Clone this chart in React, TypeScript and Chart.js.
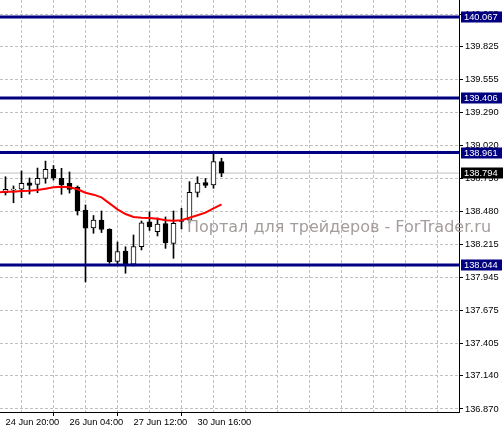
import React, { useEffect, useRef } from 'react';
import { Chart, registerables } from 'chart.js';

Chart.register(...registerables);

// ---- data ----
const candleIndex = [0, 1, 2, 3, 4, 5, 6, 7, 8, 9, 10, 11, 12, 13, 14, 15, 16, 17, 18, 19, 20, 21, 22, 23, 24, 25, 26, 27];
const opens = [138.634, 138.655, 138.662, 138.715, 138.702, 138.751, 138.825, 138.751, 138.711, 138.680, 138.493, 138.346, 138.411, 138.335, 138.074, 138.158, 138.050, 138.193, 138.397, 138.316, 138.383, 138.221, 138.407, 138.409, 138.637, 138.717, 138.697, 138.887];
const highs = [138.764, 138.689, 138.811, 138.754, 138.835, 138.892, 138.856, 138.833, 138.803, 138.689, 138.534, 138.448, 138.485, 138.340, 138.232, 138.193, 138.289, 138.403, 138.477, 138.428, 138.436, 138.485, 138.507, 138.724, 138.764, 138.750, 138.955, 138.915];
const lows = [138.615, 138.552, 138.593, 138.623, 138.634, 138.711, 138.737, 138.621, 138.631, 138.452, 137.906, 138.303, 138.309, 138.058, 138.052, 137.977, 138.036, 138.167, 138.326, 138.281, 138.180, 138.099, 138.338, 138.387, 138.599, 138.676, 138.670, 138.764];
const closes = [138.662, 138.657, 138.711, 138.694, 138.751, 138.825, 138.754, 138.697, 138.660, 138.485, 138.344, 138.411, 138.334, 138.071, 138.154, 138.050, 138.195, 138.389, 138.357, 138.379, 138.224, 138.384, 138.399, 138.637, 138.713, 138.693, 138.888, 138.794];

const maIndex = [-1, 0, 1, 2, 3, 4, 5, 6, 7, 8, 9, 10, 11, 12, 13, 14, 15, 16, 17, 18, 19, 20, 21, 22, 23, 24, 25, 26, 27];
const maValues = [138.636, 138.642, 138.642, 138.648, 138.650, 138.656, 138.667, 138.678, 138.683, 138.678, 138.662, 138.634, 138.618, 138.596, 138.547, 138.498, 138.460, 138.436, 138.430, 138.428, 138.422, 138.409, 138.406, 138.409, 138.430, 138.450, 138.471, 138.507, 138.539];

const levelValues = [140.067, 139.406, 138.961, 138.044];
const levelLabels = ['140.067', '139.406', '138.961', '138.044'];
const bidValue = 138.794;
const bidLabel = '138.794';

const yTickValues = [136.870, 137.140, 137.405, 137.675, 137.945, 138.215, 138.480, 138.750, 139.020, 139.290, 139.555, 139.825, 140.085];
const xGridIndex = [0, 4, 8, 12, 16, 20, 24, 28, 32, 36, 40, 44, 48, 52, 56];
const xLabelIndex = [0, 8, 16, 24];
const xLabelText = ['24 Jun 20:00', '26 Jun 04:00', '27 Jun 12:00', '30 Jun 16:00'];
const watermarkText = 'Портал для трейдеров - ForTrader.ru';

const X_MIN = -0.6875;
const X_MAX = 56.6875;
const Y_MIN = 136.845;
const Y_MAX = 140.206;

const NAVY = '#000080';
const FONT = "'Liberation Sans', Arial, sans-serif";
const AXIS_FONT_SIZE = 9.3;

const overlayPlugin = {
  id: 'mtOverlay',
  afterDatasetsDraw(chart: any) {
    const ctx = chart.ctx;
    ctx.save();
    ctx.font = "16px 'DejaVu Sans', sans-serif";
    ctx.fillStyle = '#a59c9c';
    ctx.textAlign = 'left';
    ctx.textBaseline = 'alphabetic';
    ctx.fillText(watermarkText, 187, 232);
    ctx.restore();
  },
  afterDraw(chart: any) {
    const ctx = chart.ctx;
    const yScale = chart.scales.y;
    const left = chart.chartArea.right + 2;
    ctx.save();
    ctx.font = `${AXIS_FONT_SIZE}px ${FONT}`;
    ctx.textBaseline = 'middle';
    ctx.textAlign = 'left';
    levelValues.forEach((v, i) => {
      const py = Math.round(yScale.getPixelForValue(v));
      ctx.fillStyle = NAVY;
      ctx.fillRect(left, py - 5.5, 41, 11);
      ctx.fillStyle = '#ffffff';
      ctx.fillText(levelLabels[i], left + 3, py + 0.5);
    });
    const by = Math.round(yScale.getPixelForValue(bidValue));
    ctx.fillStyle = '#000000';
    ctx.fillRect(left, by - 5.5, 42, 11);
    ctx.fillStyle = '#ffffff';
    ctx.fillText(bidLabel, left + 3, by + 0.5);
    ctx.restore();
  },
};

export default function App() {
  const canvasRef = useRef<HTMLCanvasElement | null>(null);

  useEffect(() => {
    const canvas = canvasRef.current;
    if (!canvas) return;

    const wickData = candleIndex.map((x, i) => ({ x, y: [lows[i], highs[i]] }));
    const bodyData = candleIndex.map((x, i) => ({
      x,
      y: [Math.min(opens[i], closes[i]), Math.max(opens[i], closes[i])],
    }));
    const bodyColors = candleIndex.map((_, i) => (closes[i] >= opens[i] ? '#ffffff' : '#000000'));
    const maData = maIndex.map((x, i) => ({ x, y: maValues[i] }));

    const datasets: any[] = [
      {
        type: 'line',
        data: [{ x: X_MIN, y: bidValue }, { x: X_MAX, y: bidValue }],
        borderColor: '#c0c0c0',
        borderWidth: 1,
        pointRadius: 0,
        order: 10,
      },
      {
        type: 'bar',
        data: wickData,
        backgroundColor: '#000000',
        borderWidth: 0,
        barThickness: 1,
        grouped: false,
        order: 6,
      },
      {
        type: 'bar',
        data: bodyData,
        backgroundColor: bodyColors,
        borderColor: '#000000',
        borderWidth: 1,
        borderSkipped: false,
        barThickness: 5,
        minBarLength: 1,
        grouped: false,
        order: 5,
      },
      {
        type: 'line',
        data: maData,
        borderColor: '#ff0000',
        borderWidth: 2,
        pointRadius: 0,
        tension: 0,
        order: 3,
      },
      ...levelValues.map((v) => ({
        type: 'line',
        data: [{ x: X_MIN, y: v }, { x: X_MAX, y: v }],
        borderColor: NAVY,
        borderWidth: 3,
        pointRadius: 0,
        order: 2,
      })),
    ];

    const chart = new Chart(canvas, {
      type: 'bar',
      data: { datasets },
      options: {
        animation: false,
        responsive: false,
        events: [],
        layout: { padding: 0 },
        plugins: { legend: { display: false }, tooltip: { enabled: false } },
        scales: {
          x: {
            type: 'linear',
            position: 'bottom',
            min: X_MIN,
            max: X_MAX,
            offset: false,
            afterBuildTicks: (axis: any) => {
              axis.ticks = xGridIndex.map((v) => ({ value: v }));
            },
            afterFit: (s: any) => {
              s.height = 19;
              s.paddingLeft = 0;
              s.paddingRight = 0;
            },
            ticks: {
              autoSkip: false,
              maxRotation: 0,
              minRotation: 0,
              align: 'start',
              padding: 1,
              color: '#000000',
              font: { family: FONT, size: AXIS_FONT_SIZE },
              callback: (value: any) => {
                const k = xLabelIndex.indexOf(Number(value));
                return k >= 0 ? xLabelText[k] : '';
              },
            },
            grid: {
              color: '#c0c0c0',
              lineWidth: 1,
              drawTicks: true,
              tickLength: 4,
              tickColor: (c: any) =>
                c.tick && xLabelIndex.indexOf(c.tick.value) >= 0 ? '#000000' : 'rgba(0,0,0,0)',
            },
            border: { display: true, color: '#000000', width: 1, dash: [3, 2] },
          },
          y: {
            type: 'linear',
            position: 'right',
            min: Y_MIN,
            max: Y_MAX,
            afterBuildTicks: (axis: any) => {
              axis.ticks = yTickValues.map((v) => ({ value: v }));
            },
            afterFit: (s: any) => {
              s.width = 44;
              s.paddingTop = 0;
              s.paddingBottom = 0;
            },
            ticks: {
              autoSkip: false,
              padding: 2,
              color: '#000000',
              font: { family: FONT, size: AXIS_FONT_SIZE },
              callback: (value: any) => Number(value).toFixed(3),
            },
            grid: {
              color: '#c0c0c0',
              lineWidth: 1,
              drawTicks: true,
              tickLength: 4,
              tickColor: '#000000',
            },
            border: { display: true, color: '#000000', width: 1, dash: [3, 2] },
          },
        },
      } as any,
      plugins: [overlayPlugin],
    });

    return () => chart.destroy();
  }, []);

  return (
    <div
      style={{
        position: 'fixed',
        left: 0,
        top: 0,
        width: 503,
        height: 431,
        background: '#ffffff',
      }}
    >
      <canvas ref={canvasRef} width={503} height={431} style={{ display: 'block' }} />
    </div>
  );
}
